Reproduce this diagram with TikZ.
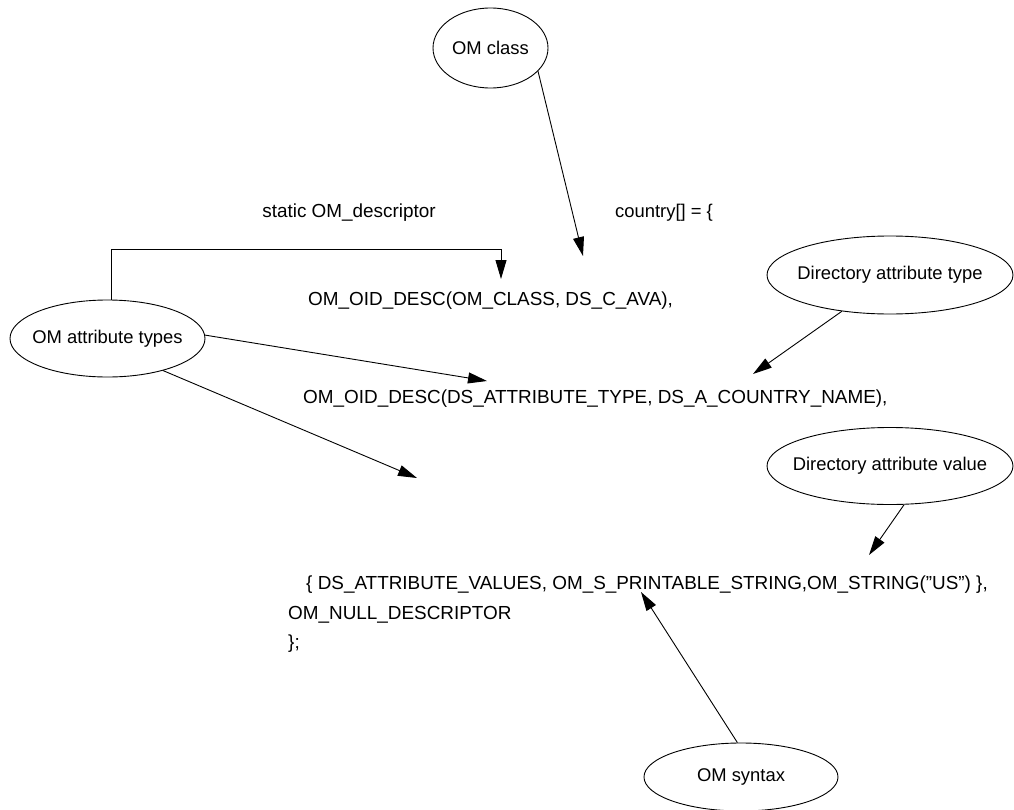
\documentclass[tikz,border=0pt]{standalone}
\usepackage{fontspec}
\setmainfont{Liberation Sans}[Ligatures=ResetAll]
\usetikzlibrary{shapes.geometric,arrows.meta}
\begin{document}
\begin{tikzpicture}[x=1bp,y=-1bp,
  every node/.style={font=\fontsize{18.4bp}{22bp}\selectfont, inner sep=0pt},
  every label/.style={font=\fontsize{18.4bp}{22bp}\selectfont, inner sep=0pt},
  bubble/.style={draw, ellipse, line width=0.9bp, inner sep=0pt},
  code/.style={anchor=base west, font=\fontsize{18.9bp}{22bp}\selectfont},
  arr/.style={line width=0.9bp, -{Triangle[length=19bp,width=11bp]}}]
\useasboundingbox (0,0) rectangle (1014,810);
% ellipses
\node[bubble, minimum width=115bp, minimum height=80bp, label={center:OM class}] (omclass) at (490.5,48) {};
\node[bubble, minimum width=195bp, minimum height=77bp, label={center:OM attribute types}] (oat) at (107.5,338.5) {};
\node[bubble, minimum width=246bp, minimum height=78bp, label={center:Directory attribute type}] (dat) at (890,275) {};
\node[bubble, minimum width=246bp, minimum height=77bp, label={center:Directory attribute value}] (dav) at (890,466) {};
\node[bubble, minimum width=194bp, minimum height=68bp, label={center:OM syntax}] (oms) at (741,777) {};
% code text
\node[anchor=base, font=\fontsize{18.9bp}{22bp}\selectfont] (static) at (349,217) {static OM\_descriptor};
\node[anchor=base, font=\fontsize{18.4bp}{22bp}\selectfont] (country) at (664,217) {country[] = \{};
\node[code] (l1) at (308,305) {OM\_OID\_DESC(OM\_CLASS, DS\_C\_AVA),};
\node[code] (l2) at (303,403) {OM\_OID\_DESC(DS\_ATTRIBUTE\_TYPE, DS\_A\_COUNTRY\_NAME),};
\node[code] (l3) at (306,589) {\{ DS\_ATTRIBUTE\_VALUES, OM\_S\_PRINTABLE\_STRING,OM\_STRING(\symbol{34}US\symbol{34}) \},};
\node[code] (l4) at (288,619) {OM\_NULL\_DESCRIPTOR};
\node[code] (l5) at (288,648) {\};};
% arrow tips
\coordinate (t0) at (583,256);
\coordinate (c1) at (501,249);
\coordinate (t1) at (501,279);
\coordinate (t2) at (487,381);
\coordinate (t3) at (417,478);
\coordinate (t4) at (753,374);
\coordinate (t5) at (869,555);
\coordinate (t6) at (641,592);
% connectors
\draw[arr] (omclass.-26) -- (t0);
\draw[arr] ([xshift=4bp]oat.north) |- (c1) -- (t1);
\draw[arr] (oat.2) -- (t2);
\draw[arr] (oat.-30) -- (t3);
\draw[arr] (dat.-143) -- (t4);
\draw[arr] (dav.-70) -- (t5);
\draw[arr] (oms.96) -- (t6);
\end{tikzpicture}
\end{document}
